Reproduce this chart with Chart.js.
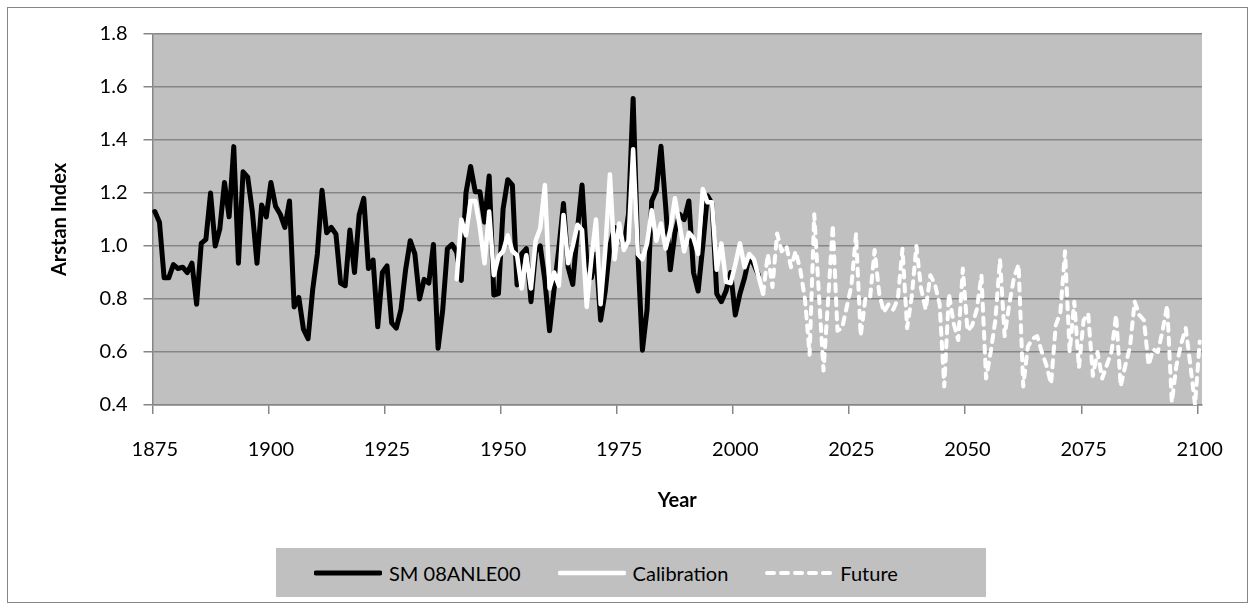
<!DOCTYPE html>
<html>
<head>
<meta charset="utf-8">
<script src="https://cdn.jsdelivr.net/npm/chart.js@4.4.0/dist/chart.umd.min.js"></script>
<style>
  body { margin: 0; background: #fff; }
  #wrap { position: relative; width: 1255px; height: 608px; font-family: Lato, sans-serif; }
  #frame { position: absolute; left: 7px; top: 7px; width: 1239px; height: 594px; border: 1px solid #868686; pointer-events: none; }
  #legend { position: absolute; left: 276px; top: 548px; width: 710px; height: 49px; background: #c0c0c0;
            display: flex; align-items: center; padding-left: 38px; box-sizing: border-box; font-size: 20px; color: #000; }
  #legend .item { display: flex; align-items: center; margin-right: 37px; }
  #legend svg { margin-right: 7px; }
</style>
</head>
<body>
<div id="wrap">
  <canvas id="arstan" width="1255" height="608"></canvas>
  <div id="frame"></div>
  <div id="legend"></div>
</div>
<script>
// categories
const firstYear = 1875;
const lastYear = 2100;
const xTickYears = [1875, 1900, 1925, 1950, 1975, 2000, 2025, 2050, 2075, 2100];

// SM 08ANLE00, 1875-2005
const smStart = 1875;
const smValues = [
  1.13, 1.09, 0.88, 0.88, 0.93, 0.915, 0.92, 0.90, 0.935, 0.78,
  1.01, 1.025, 1.20, 1.00, 1.065, 1.24, 1.11, 1.375, 0.935, 1.28,
  1.26, 1.13, 0.935, 1.155, 1.11, 1.24, 1.15, 1.12, 1.07, 1.17,
  0.77, 0.806, 0.686, 0.65, 0.836, 0.97, 1.21, 1.05, 1.07, 1.045,
  0.86, 0.85, 1.06, 0.90, 1.117, 1.18, 0.915, 0.947, 0.695, 0.90,
  0.925, 0.71, 0.69, 0.76, 0.91, 1.02, 0.97, 0.80, 0.874, 0.86,
  1.006, 0.614, 0.76, 0.99, 1.006, 0.977, 0.87, 1.20, 1.30, 1.205,
  1.205, 1.09, 1.264, 0.815, 0.82, 1.14, 1.25, 1.23, 0.853, 0.97,
  0.99, 0.79, 0.98, 1.00, 0.87, 0.68, 0.84, 0.99, 1.16, 0.92,
  0.855, 1.06, 1.23, 0.95, 0.88, 0.97, 0.72, 0.83, 1.00, 1.07,
  1.05, 1.00, 1.12, 1.557, 0.98, 0.607, 0.76, 1.17, 1.21, 1.376,
  1.15, 0.91, 1.05, 1.12, 1.10, 1.17, 0.90, 0.83, 1.00, 1.19,
  1.16, 0.82, 0.79, 0.83, 0.90, 0.74, 0.82, 0.88, 0.96, 0.93,
  0.89
];

// Calibration, 1940-2006
const calStart = 1940;
const calValues = [
  0.875, 1.10, 1.04, 1.17, 1.17, 1.07, 0.935, 1.13, 0.89, 0.96,
  0.98, 1.04, 0.98, 0.965, 0.84, 0.965, 0.84, 1.02, 1.067, 1.23,
  0.84, 0.90, 0.85, 1.117, 0.935, 1.00, 1.08, 1.06, 0.77, 0.95,
  1.10, 0.78, 0.985, 1.27, 0.95, 1.085, 0.985, 1.02, 1.365, 0.97,
  0.95, 1.01, 1.135, 1.02, 1.085, 0.99, 1.06, 1.18, 1.08, 0.98,
  1.05, 1.03, 0.97, 1.215, 1.165, 1.165, 0.91, 1.01, 0.865, 0.86,
  0.93, 1.01, 0.92, 0.97, 0.95, 0.885, 0.82
];

// Future, 2006-2100
const futStart = 2006;
const futValues = [
  0.82, 0.97, 0.845, 1.047, 0.98, 1.00, 0.92, 0.98, 0.91, 0.80,
  0.59, 1.12, 0.82, 0.53, 0.80, 1.08, 0.68, 0.69, 0.77, 0.85,
  1.045, 0.66, 0.80, 0.80, 0.985, 0.82, 0.75, 0.78, 0.76, 0.80,
  0.99, 0.69, 0.81, 1.00, 0.84, 0.76, 0.89, 0.855, 0.78, 0.47,
  0.82, 0.71, 0.645, 0.915, 0.68, 0.70, 0.76, 0.89, 0.50, 0.60,
  0.72, 0.95, 0.66, 0.78, 0.88, 0.93, 0.47, 0.62, 0.65, 0.66,
  0.60, 0.55, 0.48, 0.70, 0.75, 0.98, 0.60, 0.79, 0.54, 0.72,
  0.745, 0.51, 0.60, 0.50, 0.55, 0.60, 0.74, 0.47, 0.55, 0.62,
  0.79, 0.74, 0.72, 0.55, 0.61, 0.60, 0.68, 0.776, 0.41, 0.55,
  0.63, 0.69, 0.55, 0.40, 0.64
];

const years = [];
for (let y = firstYear; y <= lastYear; y++) years.push(y);

function toPoints(start, values) {
  return values.map((v, i) => ({ x: start + i, y: v }));
}

const gridColor = '#868686';
const tickFont = { family: 'Lato', size: 20 };
const titleFont = { family: 'Lato', size: 20, weight: 'bold' };

// grey plot area like the Excel original
const plotBg = {
  id: 'plotBg',
  beforeDraw(chart) {
    const { ctx, chartArea: a } = chart;
    ctx.save();
    ctx.fillStyle = '#c0c0c0';
    ctx.fillRect(a.left, a.top, a.right - a.left, a.bottom - a.top);
    ctx.restore();
  }
};

// legend as html, built from the datasets
const htmlLegend = {
  id: 'htmlLegend',
  afterUpdate(chart) {
    const box = document.getElementById('legend');
    box.innerHTML = '';
    chart.data.datasets.forEach(ds => {
      const item = document.createElement('div');
      item.className = 'item';
      const dash = ds.borderDash ? ' stroke-dasharray="' + ds.borderDash.join(' ') + '"' : '';
      item.innerHTML = '<svg width="68" height="12"><line x1="2" y1="6" x2="66" y2="6" stroke="' + ds.borderColor +
        '" stroke-width="' + ds.borderWidth + '" stroke-linecap="round"' + dash + '/></svg><span>' + ds.label + '</span>';
      box.appendChild(item);
    });
  }
};

new Chart(document.getElementById('arstan'), {
  type: 'line',
  data: {
    labels: years,
    datasets: [
      {
        label: 'SM 08ANLE00',
        data: toPoints(smStart, smValues),
        borderColor: '#000000',
        borderWidth: 5,
        order: 3
      },
      {
        label: 'Calibration',
        data: toPoints(calStart, calValues),
        borderColor: '#ffffff',
        borderWidth: 4.5,
        order: 2
      },
      {
        label: 'Future',
        data: toPoints(futStart, futValues),
        borderColor: '#ffffff',
        borderWidth: 4,
        borderDash: [7, 7],
        order: 1
      }
    ]
  },
  plugins: [plotBg, htmlLegend],
  options: {
    responsive: false,
    animation: false,
    events: [],
    layout: { padding: { left: 0, right: 53, top: 34, bottom: 95 } },
    elements: {
      point: { radius: 0 },
      line: { tension: 0, borderJoinStyle: 'round', borderCapStyle: 'round' }
    },
    plugins: {
      legend: { display: false },
      tooltip: { enabled: false }
    },
    scales: {
      x: {
        type: 'category',
        offset: true,
        grid: {
          offset: true,
          drawOnChartArea: false,
          tickLength: 9,
          lineWidth: 1.5,
          color: ctx => (ctx.index % 25 === 0 ? gridColor : 'rgba(0,0,0,0)')
        },
        border: { color: gridColor, width: 1.5 },
        ticks: {
          autoSkip: false,
          maxRotation: 0,
          padding: 24,
          color: '#000',
          font: tickFont,
          callback: function (value) {
            const yr = this.getLabelForValue(value);
            return xTickYears.includes(yr) ? String(yr) : '';
          }
        },
        title: { display: true, text: 'Year', color: '#000', font: titleFont, padding: 0 },
        afterFit: scale => { scale.height = 108; }
      },
      y: {
        min: 0.4,
        max: 1.8,
        grid: { color: gridColor, lineWidth: 1.5, tickLength: 9 },
        border: { color: gridColor, width: 1.5 },
        ticks: { stepSize: 0.2, padding: 16, color: '#000', font: tickFont },
        title: { display: true, text: 'Arstan Index', color: '#000', font: titleFont, padding: { top: 48, bottom: 0 } },
        afterFit: scale => { scale.width = 152.5; }
      }
    }
  }
});
</script>
</body>
</html>
